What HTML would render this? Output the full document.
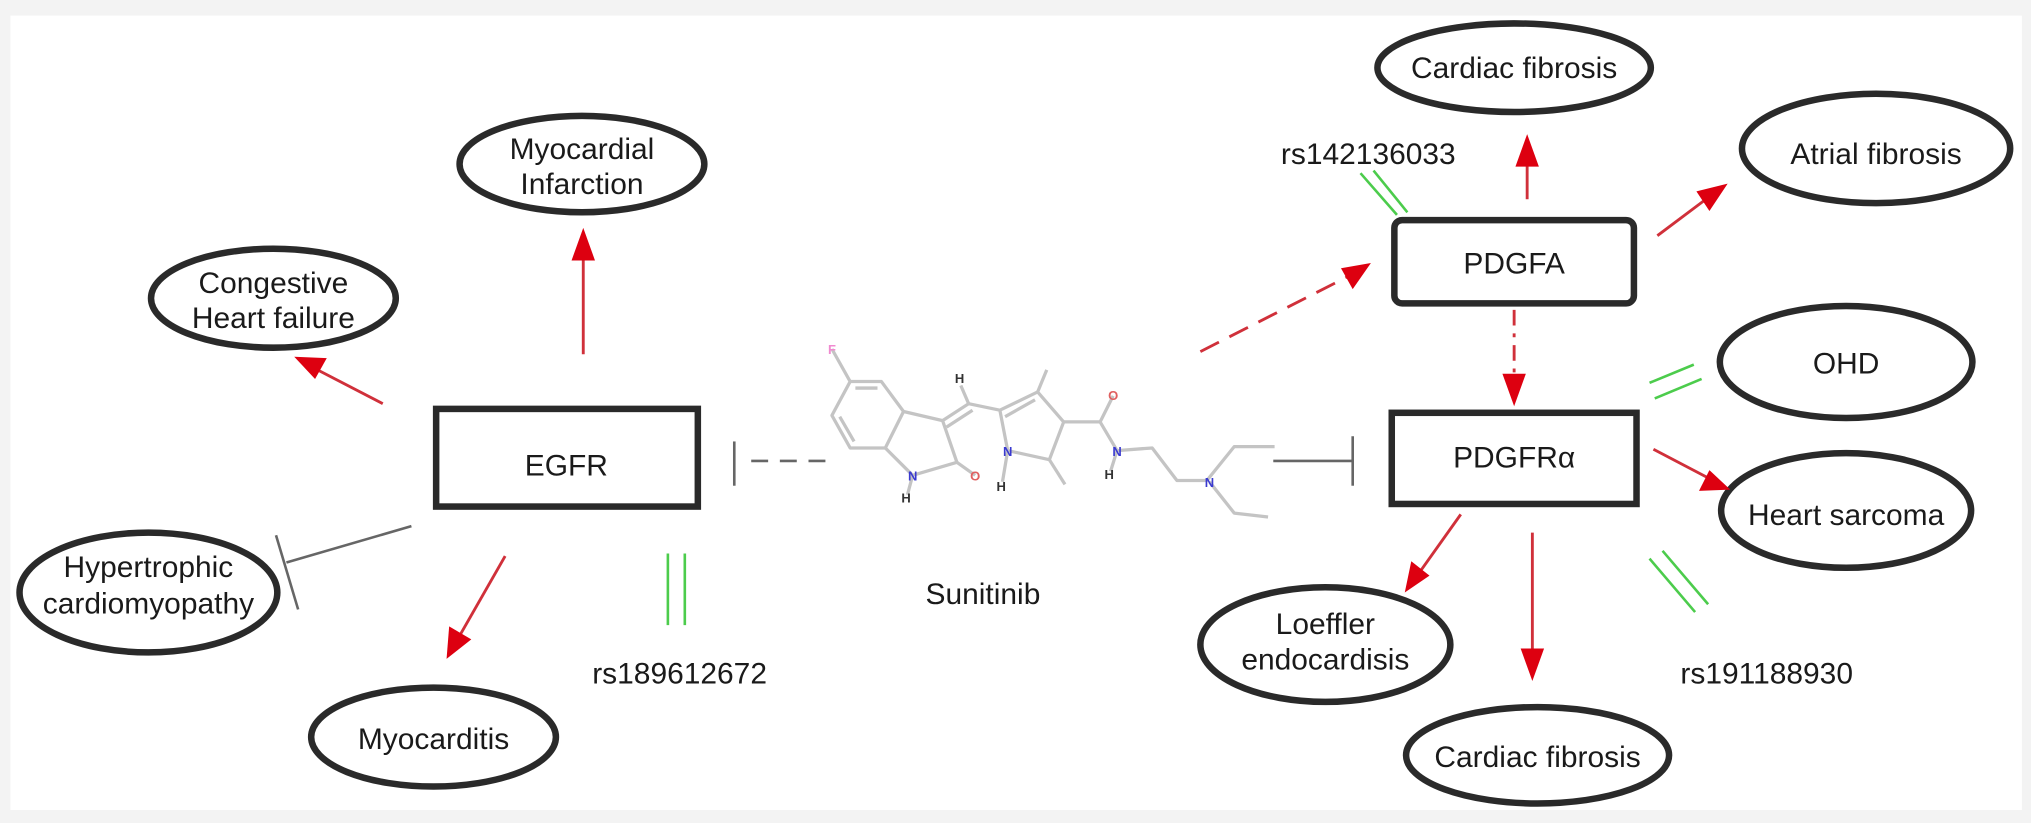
<!DOCTYPE html>
<html><head><meta charset="utf-8"><style>
html,body{margin:0;padding:0;background:#f3f3f3;}
svg{display:block;}
text{font-family:"Liberation Sans",Arial,sans-serif;fill:#1a1a1a;}
</style></head><body>
<svg width="2031" height="823" viewBox="0 0 1560 632" preserveAspectRatio="none" xmlns="http://www.w3.org/2000/svg">
<rect x="8" y="12" width="1545" height="610" fill="#fff"/>

<g fill="none" stroke="#2a2a2a" stroke-width="5">
<ellipse cx="447" cy="126" rx="94" ry="37"/>
<ellipse cx="210" cy="229" rx="94" ry="38"/>
<ellipse cx="114" cy="455" rx="99" ry="46"/>
<ellipse cx="333" cy="566" rx="94" ry="38"/>
<ellipse cx="1163" cy="52" rx="105" ry="34"/>
<ellipse cx="1441" cy="114" rx="103" ry="42"/>
<ellipse cx="1418" cy="278" rx="97" ry="43"/>
<ellipse cx="1418" cy="392" rx="96" ry="44"/>
<ellipse cx="1018" cy="495" rx="96" ry="44"/>
<ellipse cx="1181" cy="580" rx="101" ry="37"/>
<rect x="335" y="314" width="201" height="75"/>
<rect x="1071" y="169" width="184" height="64" rx="6"/>
<rect x="1069" y="317" width="188" height="70"/>
</g>

<g font-size="23" text-anchor="middle">
<text x="447" y="122">Myocardial</text><text x="447" y="149">Infarction</text>
<text x="210" y="225">Congestive</text><text x="210" y="252">Heart failure</text>
<text x="114" y="443">Hypertrophic</text><text x="114" y="471">cardiomyopathy</text>
<text x="333" y="575">Myocarditis</text>
<text x="1163" y="60">Cardiac fibrosis</text>
<text x="1441" y="126">Atrial fibrosis</text>
<text x="1418" y="287">OHD</text>
<text x="1418" y="403">Heart sarcoma</text>
<text x="1018" y="487">Loeffler</text><text x="1018" y="514">endocardisis</text>
<text x="1181" y="589">Cardiac fibrosis</text>
<text x="435" y="365">EGFR</text>
<text x="1163" y="210">PDGFA</text>
<text x="1163" y="359">PDGFRα</text>
<text x="755" y="464">Sunitinib</text>
<text x="522" y="525">rs189612672</text>
<text x="1051" y="126">rs142136033</text>
<text x="1357" y="525">rs191188930</text>
</g>

<!-- red arrows -->
<g stroke="#d0303a" stroke-width="2.2" fill="none">
<line x1="448" y1="272" x2="448" y2="195"/>
<line x1="294" y1="310" x2="240" y2="282"/>
<line x1="388" y1="427" x2="352" y2="490"/>
<line x1="1173" y1="153" x2="1173" y2="120"/>
<line x1="1273" y1="181" x2="1313" y2="151"/>
<line x1="1270" y1="345" x2="1312" y2="367"/>
<line x1="1122" y1="395" x2="1090" y2="440"/>
<line x1="1177" y1="409" x2="1177" y2="503"/>
<line x1="922" y1="270" x2="1036" y2="212" stroke-dasharray="16 9"/>
<line x1="1163" y1="238" x2="1163" y2="292" stroke-dasharray="12 6 3 6"/>
</g>
<g fill="#dd0010">
<polygon points="448,175 439,200 457,200"/>
<polygon points="226,274 251,275 242,291"/>
<polygon points="343,506 345,481 362,491"/>
<polygon points="1173,103 1164,128 1182,128"/>
<polygon points="1327,141 1313,162 1303,147"/>
<polygon points="1329,376 1305,377 1313,361"/>
<polygon points="1079,455 1084,431 1098,442"/>
<polygon points="1177,523 1168,498 1186,498"/>
<polygon points="1053,202 1039,222 1030,206"/>
<polygon points="1163,312 1154,287 1172,287"/>
</g>

<!-- inhibition lines -->
<g stroke="#666" stroke-width="2" fill="none">
<line x1="316" y1="404" x2="220" y2="432"/>
<line x1="212" y1="411" x2="229" y2="468"/>
<line x1="634" y1="354" x2="573" y2="354" stroke-dasharray="13 9"/>
<line x1="564" y1="339" x2="564" y2="373"/>
<line x1="978" y1="354" x2="1039" y2="354"/>
<line x1="1039" y1="335" x2="1039" y2="373"/>
</g>

<!-- green double lines -->
<g stroke="#4ccc4c" stroke-width="2" fill="none">
<line x1="513" y1="425" x2="513" y2="480"/><line x1="526" y1="425" x2="526" y2="480"/>
<line x1="1045" y1="133" x2="1073" y2="165"/><line x1="1055" y1="131" x2="1081" y2="163"/>
<line x1="1267" y1="294" x2="1301" y2="280"/><line x1="1271" y1="306" x2="1307" y2="291"/>
<line x1="1267" y1="429" x2="1302" y2="470"/><line x1="1277" y1="423" x2="1312" y2="464"/>
</g>

<!-- molecule -->
<g stroke="#c4c4c4" stroke-width="2.5" fill="none" stroke-linejoin="round">
<polyline points="639,268 653,293 677,293 694,316 680,344 653,344 639,319 653,293"/>
<line x1="657" y1="298" x2="674" y2="298"/>
<line x1="645" y1="320" x2="656" y2="339"/>
<polyline points="694,316 724,323 735,355 701,365 680,344"/>
<line x1="735" y1="355" x2="749" y2="365"/>
<line x1="724" y1="323" x2="744" y2="310"/><line x1="727" y1="328" x2="747" y2="315"/>
<line x1="744" y1="310" x2="738" y2="296"/>
<polyline points="744,310 768,315 774,346 806,353 817,324 797,301 768,315"/>
<line x1="772" y1="320" x2="795" y2="307"/>
<line x1="797" y1="301" x2="804" y2="284"/>
<line x1="806" y1="353" x2="818" y2="372"/>
<line x1="774" y1="346" x2="770" y2="370"/>
<line x1="701" y1="365" x2="697" y2="380"/>
<polyline points="817,324 845,324 858,346 885,344 904,369 927,369 948,343 979,343"/>
<line x1="845" y1="324" x2="855" y2="304"/>
<line x1="858" y1="346" x2="853" y2="362"/>
<polyline points="929,370 948,394 974,397"/>
</g>
<g font-size="10" font-weight="bold" text-anchor="middle">
<text x="639" y="272" style="fill:#f08ad0">F</text>
<text x="701" y="369" style="fill:#3a3ad0">N</text>
<text x="774" y="350" style="fill:#3a3ad0">N</text>
<text x="858" y="350" style="fill:#3a3ad0">N</text>
<text x="929" y="374" style="fill:#3a3ad0">N</text>
<text x="749" y="369" style="fill:#e06060">O</text>
<text x="855" y="307" style="fill:#e06060">O</text>
<text x="737" y="294" style="fill:#333">H</text>
<text x="696" y="386" style="fill:#333">H</text>
<text x="769" y="377" style="fill:#333">H</text>
<text x="852" y="368" style="fill:#333">H</text>
</g>
</svg>
</body></html>
